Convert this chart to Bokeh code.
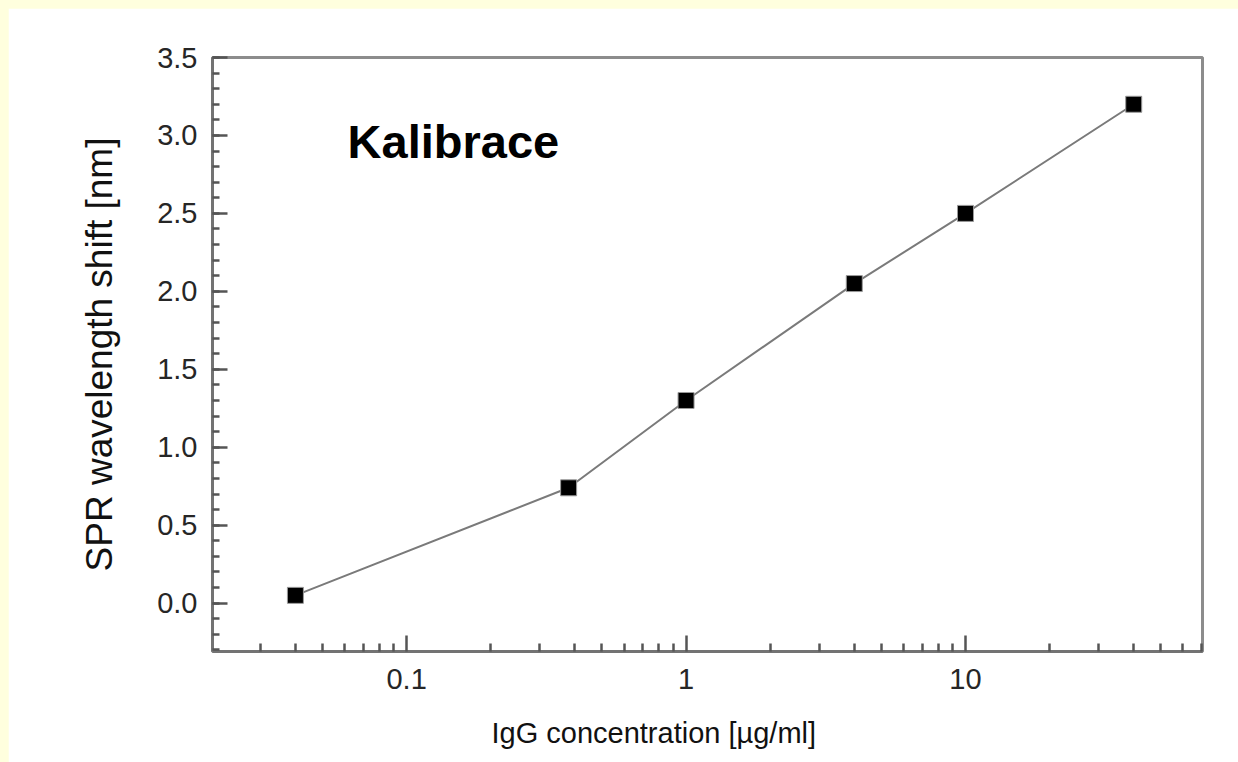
from bokeh.plotting import figure
from bokeh.models import FixedTicker, SingleIntervalTicker, PrintfTickFormatter, Label, Range1d, Title
from bokeh.embed import file_html
from bokeh.resources import INLINE

# ---- data ----
igg_conc = [0.04, 0.38, 1.0, 4.0, 10.0, 40.0]          # µg/ml
spr_shift = [0.05, 0.74, 1.30, 2.05, 2.50, 3.20]        # nm

x_major_ticks = [0.1, 1, 10]
x_tick_labels = ["0.1", "1", "10"]
x_minor_ticks = [m * d for d in (0.01, 0.1, 1, 10) for m in range(2, 10)]
x_minor_ticks = [t for t in x_minor_ticks if 0.02 <= t <= 70]

title_text = "Kalibrace"
x_label = "IgG concentration [µg/ml]"
y_label = "SPR wavelength shift [nm]"

FONT = "Liberation Sans"

p = figure(
    width=1230, height=778,
    x_axis_type="log",
    x_range=Range1d(0.0202, 70.5), y_range=Range1d(-0.31, 3.5),
    output_backend="svg", toolbar_location=None,
    min_border_left=204, min_border_right=36,
    min_border_top=49, min_border_bottom=135,
    background_fill_color="white", border_fill_color="white",
)
p.grid.visible = False
p.outline_line_color = "#8c8c8c"
p.outline_line_width = 3

# x axis
xa = p.xaxis[0]
xa.ticker = FixedTicker(ticks=x_major_ticks, minor_ticks=x_minor_ticks)
xa.major_label_overrides = {t: s for t, s in zip(x_major_ticks, x_tick_labels)}

# y axis
ya = p.yaxis[0]
ya.ticker = SingleIntervalTicker(interval=0.5, num_minor_ticks=5)
ya.formatter = PrintfTickFormatter(format="%.1f")
ya.axis_label = y_label

for ax in (xa, ya):
    ax.axis_line_color = "#737373"
    ax.axis_line_width = 3
    ax.major_tick_line_color = "#555555"
    ax.minor_tick_line_color = "#555555"
    ax.major_tick_line_width = 2.5
    ax.minor_tick_line_width = 2.5
    ax.major_tick_out = 0
    ax.minor_tick_out = 0
    ax.major_label_text_font = FONT
    ax.major_label_text_font_size = "29px"
    ax.major_label_text_color = "#262626"
    ax.axis_label_text_font = FONT
    ax.axis_label_text_font_style = "normal"
    ax.axis_label_text_color = "#111111"

xa.major_tick_in = 16
xa.minor_tick_in = 8
xa.major_label_standoff = 17

ya.major_tick_in = 15
ya.minor_tick_in = 7
ya.major_label_standoff = 15
ya.axis_label_text_font_size = "37px"
ya.axis_label_standoff = 34

# data
p.line(igg_conc, spr_shift, line_color="#7a7a7a", line_width=2)
p.scatter(igg_conc, spr_shift, marker="square", size=16,
          fill_color="black", line_color="#9a9a9a", line_width=1)

# in-plot title
p.add_layout(Label(x=0.0615, y=2.96, text=title_text, text_font=FONT,
                   text_font_size="47px", text_font_style="bold",
                   text_color="black", text_baseline="alphabetic"))

# x-axis title (off-centre in the reference, so placed as a left-aligned title below)
p.add_layout(Title(text=x_label, align="left", offset=279, standoff=47,
                   text_font=FONT, text_font_size="29px", text_font_style="normal",
                   text_color="#111111"), "below")

html = file_html(p, INLINE)
html = html.replace(
    "</head>",
    "<style>html{background:#FFFFDE;overflow:hidden;}"
    "body{background:#FFFFDE;overflow:hidden;padding:8px 0 0 8px !important;}</style></head>",
    1,
)
open("out.html", "w").write(html)
